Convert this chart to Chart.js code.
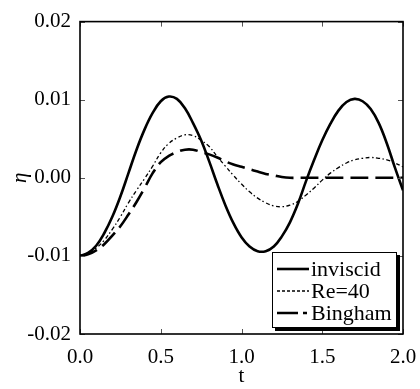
<!DOCTYPE html>
<html>
<head>
<meta charset="utf-8">
<script src="https://cdn.jsdelivr.net/npm/chart.js@4.4.1/dist/chart.umd.min.js"></script>
<style>
  html, body { margin: 0; padding: 0; background: #fff; }
  #wrap { width: 420px; height: 389px; position: relative; }
  #probe { position: absolute; left: -1000px; top: 0; font-family: "Liberation Serif"; font-size: 20px; }
</style>
</head>
<body>
<div id="wrap"><canvas id="c" width="420" height="389"></canvas></div>
<div id="probe">0.01 inviscid η <i>η</i></div>
<script>
// ---- data ----
const tValues = [0.00,0.05,0.10,0.15,0.20,0.25,0.30,0.35,0.40,0.45,0.50,0.55,0.60,0.65,0.70,0.75,0.80,0.85,0.90,0.95,1.00,1.05,1.10,1.15,1.20,1.25,1.30,1.35,1.40,1.45,1.50,1.55,1.60,1.65,1.70,1.75,1.80,1.85,1.90,1.95,2.00];
const inviscid = [-0.0100,-0.0096,-0.0087,-0.0071,-0.0050,-0.0024,0.0006,0.0036,0.0062,0.0083,0.0098,0.0104,0.0101,0.0089,0.0070,0.0048,0.0021,-0.0008,-0.0035,-0.0058,-0.0076,-0.0088,-0.0094,-0.0094,-0.0088,-0.0075,-0.0057,-0.0033,-0.0004,0.0023,0.0048,0.0069,0.0086,0.0097,0.0101,0.0098,0.0088,0.0070,0.0044,0.0013,-0.0016];
const re40 = [-0.0100,-0.0097,-0.0090,-0.0080,-0.0066,-0.0050,-0.0032,-0.0016,-0.0001,0.0015,0.0032,0.0044,0.0051,0.0055,0.0054,0.0048,0.0040,0.0027,0.0015,0.0003,-0.0008,-0.0018,-0.0026,-0.0032,-0.0036,-0.0037,-0.0035,-0.0030,-0.0022,-0.0013,-0.0003,0.0006,0.0013,0.0019,0.0023,0.0025,0.0026,0.0025,0.0023,0.0019,0.0014];
const bingham = [-0.0100,-0.0098,-0.0093,-0.0085,-0.0074,-0.0062,-0.0047,-0.0031,-0.0013,0.0006,0.0020,0.0028,0.0033,0.0036,0.0036,0.0033,0.0030,0.0026,0.0021,0.0017,0.0014,0.0011,0.0008,0.0005,0.0003,0.0001,0.0000,0.0000,0.0000,0.0000,0.0000,0.0000,0.0000,0.0000,0.0000,0.0000,0.0000,0.0000,0.0000,0.0000,0.0000];
const seriesNames = ["inviscid", "Re=40", "Bingham"];
const xTicks = [0.0, 0.5, 1.0, 1.5, 2.0];
const yTicks = [-0.02, -0.01, 0.00, 0.01, 0.02];
const xTitle = "t";
const yTitle = "η";

const FONT = '"Liberation Serif", "DejaVu Serif", serif';
const FS = 21;

function pts(arr) { return tValues.map((t, i) => ({ x: t, y: arr[i] })); }
function fmt(v, d) { const n = Number(v); return (Math.abs(n) < 1e-12 ? 0 : n).toFixed(d); }

const styles = [
  { width: 2.6, dash: [] },
  { width: 1.3, dash: [4, 2.5, 1.5, 2.5] },
  { width: 2.6, dash: [18, 7] }
];
const legendDash = [[], [3, 2], [21, 5, 4, 200]];

const framePlugin = {
  id: 'frame',
  afterDatasetsDraw(chart) {
    const { ctx, chartArea: a, scales } = chart;
    ctx.save();
    ctx.strokeStyle = '#555';
    ctx.lineWidth = 1;
    const tl = 5;
    xTicks.forEach(v => {
      const x = Math.round(scales.x.getPixelForValue(v)) + 0.5;
      ctx.beginPath();
      ctx.moveTo(x, a.bottom); ctx.lineTo(x, a.bottom - tl);
      ctx.moveTo(x, a.top); ctx.lineTo(x, a.top + tl);
      ctx.stroke();
    });
    yTicks.forEach(v => {
      const y = Math.round(scales.y.getPixelForValue(v)) + 0.5;
      ctx.beginPath();
      ctx.moveTo(a.left, y); ctx.lineTo(a.left + tl, y);
      ctx.moveTo(a.right, y); ctx.lineTo(a.right - tl, y);
      ctx.stroke();
    });
    ctx.strokeStyle = '#000';
    ctx.lineWidth = 1.6;
    ctx.strokeRect(a.left, a.top, a.right - a.left, a.bottom - a.top);

    const bx = 272, by = 252, bw = 125, bh = 76;
    ctx.fillStyle = '#000';
    ctx.fillRect(bx + 3, by + 3, bw, bh);
    ctx.fillStyle = '#fff';
    ctx.fillRect(bx, by, bw, bh);
    ctx.lineWidth = 1;
    ctx.strokeStyle = '#000';
    ctx.strokeRect(bx + 0.5, by + 0.5, bw - 1, bh - 1);
    const rows = [269, 291, 313];
    ctx.font = "22px " + FONT;
    ctx.textBaseline = 'middle';
    ctx.textAlign = 'left';
    seriesNames.forEach((n, i) => {
      ctx.beginPath();
      ctx.setLineDash(legendDash[i]);
      ctx.lineWidth = styles[i].width;
      ctx.moveTo(277, rows[i]);
      ctx.lineTo(309, rows[i]);
      ctx.stroke();
      ctx.setLineDash([]);
      ctx.fillStyle = '#000';
      ctx.fillText(n, 311, rows[i] + 1);
    });
    ctx.restore();
  }
};

function build() {
  const datasets = [inviscid, re40, bingham].map((arr, i) => ({
    label: seriesNames[i],
    data: pts(arr),
    borderColor: '#000',
    borderWidth: styles[i].width,
    borderDash: styles[i].dash,
    pointRadius: 0,
    tension: 0.4,
    fill: false
  }));

  new Chart(document.getElementById('c'), {
    type: 'line',
    data: { datasets },
    plugins: [framePlugin],
    options: {
      responsive: false,
      animation: false,
      devicePixelRatio: 1,
      layout: { padding: { top: 12, right: 17, left: 0, bottom: 0 } },
      plugins: { legend: { display: false }, tooltip: { enabled: false } },
      scales: {
        x: {
          type: 'linear', min: 0, max: 2,
          afterBuildTicks(s) { s.ticks = xTicks.map(v => ({ value: v })); },
          afterFit(s) { s.height = 55; },
          grid: { display: false },
          border: { display: false },
          ticks: {
            padding: 3, color: '#000',
            font: { family: FONT, size: FS },
            callback: v => fmt(v, 1),
            maxRotation: 0
          },
          title: { display: true, text: xTitle, color: '#000', font: { family: FONT, size: FS }, padding: { top: 0, bottom: 0 } }
        },
        y: {
          type: 'linear', min: -0.02, max: 0.02,
          afterBuildTicks(s) { s.ticks = yTicks.map(v => ({ value: v })); },
          afterFit(s) { s.width = 80; },
          grid: { display: false, drawTicks: false },
          border: { display: false },
          ticks: {
            padding: 9, color: '#000',
            font: { family: FONT, size: FS },
            callback: v => fmt(v, 2)
          },
          title: { display: true, text: yTitle, color: '#000', font: { family: FONT, size: FS, style: 'italic' }, padding: { top: 8, bottom: 0 } }
        }
      }
    }
  });
}

if (document.fonts && document.fonts.load) {
  Promise.all([
    document.fonts.load(FS + 'px "Liberation Serif"'),
    document.fonts.load('italic ' + FS + 'px "Liberation Serif"')
  ]).then(build, build);
} else {
  build();
}
</script>
</body>
</html>
